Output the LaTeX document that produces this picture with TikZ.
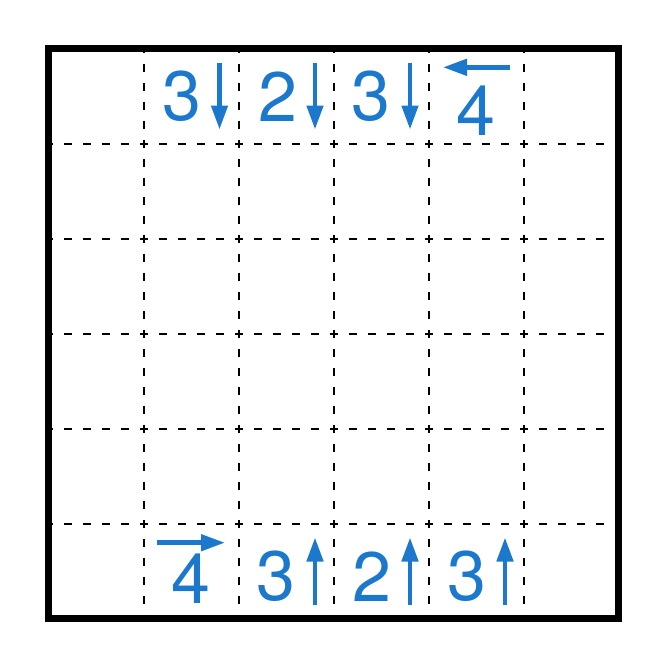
\documentclass[tikz,border=0pt]{standalone}
\usepackage{fontspec}
\setmainfont{TeX Gyre Heros}
\usetikzlibrary{arrows.meta}
\definecolor{clueblue}{RGB}{27,120,205}
\tikzset{
  gridline/.style={line width=2.4pt, dash pattern=on 7.6pt off 11.4pt, dash phase=3.8pt, black},
  frame/.style={line width=7.3pt, black},
  clue/.style={inner sep=0pt, text=clueblue, font=\fontsize{70}{70}\selectfont},
  cluearrow/.style={line width=4.6pt, clueblue, -{Triangle[length=24pt,width=16pt]}}
}
\begin{document}
\begin{tikzpicture}[x=1pt,y=-1pt]
\useasboundingbox (0,0) rectangle (665,665);
% dashed grid
\foreach \k in {1,...,5} {
  \pgfmathsetmacro{\p}{48.7+\k*95}
  \draw[gridline] (\p,48.7) -- (\p,618.7);
  \draw[gridline] (48.7,\p) -- (618.7,\p);
}
\draw[frame] (48.7,48.7) rectangle (618.7,618.7);
% top clues
\node[clue] (t1) at (181.7,96.5) {3};
\node[clue] (t2) at (277.5,96.5) {2};
\node[clue] (t3) at (370.8,96.5) {3};
\node[clue] (t4) at (475.8,110.8) {4};
\coordinate (t1a) at (219.5,62.5); \coordinate (t1b) at (219.5,129.5);
\coordinate (t2a) at (315,62.5); \coordinate (t2b) at (315,129.5);
\coordinate (t3a) at (410,62.5); \coordinate (t3b) at (410,129.5);
\coordinate (t4a) at (510,67.3); \coordinate (t4b) at (443,67.3);
\draw[cluearrow] (t1a) -- (t1b);
\draw[cluearrow] (t2a) -- (t2b);
\draw[cluearrow] (t3a) -- (t3b);
\draw[cluearrow] (t4a) -- (t4b);
% bottom clues
\node[clue] (b1) at (190.8,579) {4};
\node[clue] (b2) at (275.8,576.7) {3};
\node[clue] (b3) at (371.7,576.7) {2};
\node[clue] (b4) at (466.7,576.7) {3};
\coordinate (b1a) at (157,542.7); \coordinate (b1b) at (225,542.7);
\coordinate (b2a) at (315,604.5); \coordinate (b2b) at (315,537.5);
\coordinate (b3a) at (410,604.5); \coordinate (b3b) at (410,537.5);
\coordinate (b4a) at (505,604.5); \coordinate (b4b) at (505,537.5);
\draw[cluearrow] (b1a) -- (b1b);
\draw[cluearrow] (b2a) -- (b2b);
\draw[cluearrow] (b3a) -- (b3b);
\draw[cluearrow] (b4a) -- (b4b);
\end{tikzpicture}
\end{document}
